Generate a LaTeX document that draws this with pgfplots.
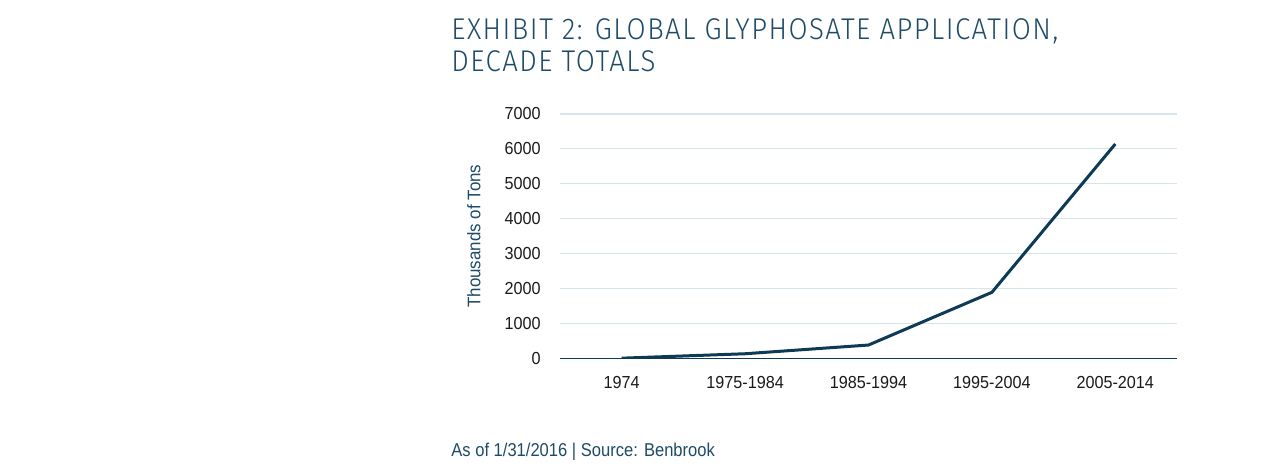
\documentclass[border=0pt]{standalone}
\usepackage{pgfplots}
\pgfplotsset{compat=1.18}
\usepackage{fontspec}
\setmainfont{Liberation Sans}[FakeStretch=0.93]
\newfontfamily\footfont{Liberation Sans}[FakeStretch=0.89]
\newfontfamily\titlefont{Fira Sans Light}[FakeStretch=0.92,LetterSpace=5]
\definecolor{navy}{HTML}{0D3A55}
\definecolor{titleblue}{HTML}{1E4B68}
\definecolor{gridc}{HTML}{D6E4EC}
\definecolor{ticktext}{HTML}{1A1A1A}

\begin{document}
\begin{tikzpicture}
  \fill[white] (0,0) rectangle (637.5pt,237pt);
  \path[use as bounding box] (0,0) rectangle (637.5pt,237pt);

  \node[anchor=base west, inner sep=0pt, text=titleblue,
        font=\titlefont\fontsize{15}{17}\selectfont]
    at (225.5pt,217pt) {EXHIBIT 2: GLOBAL GLYPHOSATE APPLICATION,};
  \node[anchor=base west, inner sep=0pt, text=titleblue,
        font=\titlefont\fontsize{15}{17}\selectfont]
    at (225.5pt,201pt) {DECADE TOTALS};

  \begin{axis}[
    at={(280pt,57.85pt)}, anchor=south west,
    scale only axis,
    width=308.5pt, height=122.15pt,
    xmin=-0.5, xmax=4.5,
    ymin=0, ymax=7000,
    axis x line=bottom,
    axis y line=left,
    axis line style={-},
    x axis line style={navy, line width=0.75pt},
    y axis line style={draw=none},
    major tick length=0pt,
    xtick=data,
    xticklabels={1974,1975-1984,1985-1994,1995-2004,2005-2014},
    ytick={0,1000,...,7000},
    ymajorgrids,
    grid style={gridc, line width=0.6pt},
    /pgf/number format/1000 sep={},
    /pgf/number format/assume math mode=true,
    ticklabel style={font=\fontsize{8.7}{10}\selectfont, text=ticktext},
    yticklabel style={inner sep=0pt, anchor=east, xshift=-9.5pt},
    xticklabel style={inner sep=0pt, anchor=north, yshift=-8.85pt},
    ylabel={Thousands of Tons},
    ylabel style={at={(axis description cs:-0.1394,0.5)}, anchor=center,
                  inner sep=0pt, text=titleblue, font=\fontsize{9.1}{10}\selectfont},
  ]
    \addplot[navy, line width=1.5pt, line join=round] coordinates {
      (0,3)
      (1,130)
      (2,380)
      (3,1890)
      (4,6140)
    };
  \end{axis}

  \node[anchor=base west, inner sep=0pt, text=titleblue,
        font=\footfont\fontsize{9.3}{11}\selectfont]
    at (225.5pt,8.65pt) {As of 1/31/2016 | Source: Benbrook};
\end{tikzpicture}
\end{document}
